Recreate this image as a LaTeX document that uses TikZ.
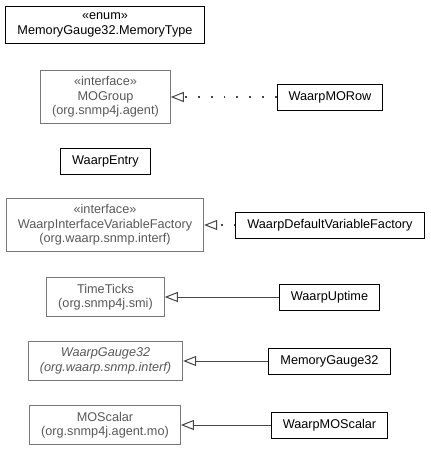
\documentclass[tikz,border=0pt]{standalone}
\usepackage{fontspec}
\setmainfont{Liberation Sans}
\usetikzlibrary{arrows.meta}
\definecolor{extgray}{RGB}{120, 120, 120}
\definecolor{exttext}{RGB}{88, 88, 88}
\definecolor{linegray}{RGB}{70, 70, 70}

\begin{document}
\begin{tikzpicture}[x=1pt, y=-1pt,
  cls/.style={draw=black, line width=1pt, inner xsep=11.5pt, inner ysep=6.5pt,
    minimum height=26pt, align=center,
    font=\fontsize{12.7}{14.5}\selectfont},
  ext/.style={cls, draw=extgray, text=exttext},
  extit/.style={ext, font=\fontsize{12.7}{14.5}\selectfont\itshape},
  extends/.style={-{Triangle[open,length=13pt,width=10pt,line width=1pt]}, line width=1pt, draw=linegray},
  realizes/.style={extends, line width=1.8pt, dash pattern=on 1.8pt off 11pt}]
\useasboundingbox (0,0) rectangle (431,451);
\node[cls] (enum) at (105,25) {«enum»\\MemoryGauge32.MemoryType};
\node[ext] (mogroup) at (105.5,97) {«interface»\\MOGroup\\(org.snmp4j.agent)};
\node[cls] (morow) at (330,97) {WaarpMORow};
\node[cls] (entry) at (105.5,161.5) {WaarpEntry};
\node[ext] (ifactory) at (105,225) {«interface»\\WaarpInterfaceVariableFactory\\(org.waarp.snmp.interf)};
\node[cls] (dfactory) at (330,225) {WaarpDefaultVariableFactory};
\node[ext] (timeticks) at (105.5,297) {TimeTicks\\(org.snmp4j.smi)};
\node[cls] (uptime) at (329.5,297) {WaarpUptime};
\node[extit] (gauge) at (105.5,361) {WaarpGauge32\\(org.waarp.snmp.interf)};
\node[cls] (memgauge) at (329.5,361) {MemoryGauge32};
\node[ext] (moscalar) at (105,425) {MOScalar\\(org.snmp4j.agent.mo)};
\node[cls] (wmoscalar) at (329.5,425) {WaarpMOScalar};
  \path[realizes]
    (morow) edge (mogroup)
    (dfactory) edge (ifactory);
  \path[extends]
    (uptime) edge (timeticks)
    (memgauge) edge (gauge)
    (wmoscalar) edge (moscalar);
\end{tikzpicture}
\end{document}
